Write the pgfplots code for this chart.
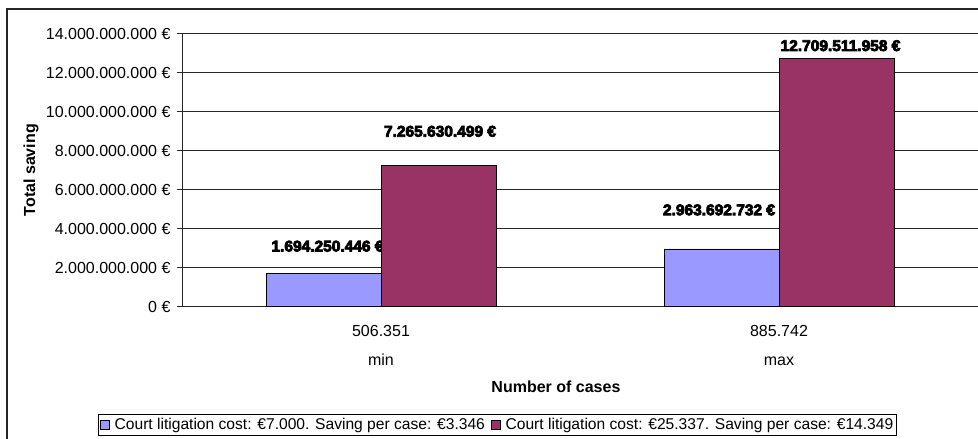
\documentclass[border=0pt]{standalone}
\usepackage{pgfplots}
\usepackage{pgfplotstable}
\pgfplotsset{compat=1.18}
\usepackage{fontspec}
\setmainfont{Liberation Sans}
\newfontface\heavy[FakeBold=5]{Liberation Sans Bold}

\definecolor{barblue}{HTML}{9999FF}
\definecolor{barplum}{HTML}{993366}

% total saving per scenario; dx, dy = placement of the value label (bp)
\pgfplotstableread{
x y lab dx dy
0 1694250446 {1.694.250.446 €} 4 27.5
1 2963692732 {2.963.692.732 €} -2.5 39
}\lowcost
\pgfplotstableread{
x y lab dx dy
0 7265630499 {7.265.630.499 €} 1.5 33.7
1 12709511958 {12.709.511.958 €} 4 13.2
}\highcost

% shared geometry of the two stacked axes
\pgfplotsset{
  frame geometry/.style={
    at={(182bp,132.3bp)}, anchor=south west,
    scale only axis, width=796bp, height=273bp,
    xmin=-0.5, xmax=1.5, ymin=0, ymax=14000000000,
    ybar=0pt, bar width=115bp,
    point meta=explicit symbolic,
    nodes near coords,
    every node near coord/.append style={font=\heavy\fontsize{15.5bp}{18bp}\selectfont,
       anchor=center, xshift=\dx bp, yshift=\dy bp, inner sep=0pt},
    visualization depends on={\thisrow{dx} \as \dx},
    visualization depends on={\thisrow{dy} \as \dy},
  },
}

\begin{document}
\fontsize{16bp}{19bp}\selectfont
\begin{tikzpicture}
\useasboundingbox (0,0) rectangle (978bp,439bp);
\clip (0,0) rectangle (978bp,439bp);
% chart frame
\draw[line width=1.2bp, black!85] (7bp,-10bp) -- (7bp,430bp) -- (990bp,430bp);
% value axis, categories, grid and the low-cost series
\begin{axis}[
  frame geometry,
  scaled y ticks=false,
  axis x line*=bottom, axis y line*=left,
  axis line style={black!85, line width=0.9bp},
  ymajorgrids, grid style={black!85, line width=0.8bp},
  tick align=outside, major tick length=5bp,
  tick style={black!85, line width=0.9bp},
  ytick={0,2000000000,4000000000,6000000000,8000000000,10000000000,12000000000,14000000000},
  yticklabels={0 €,2.000.000.000 €,4.000.000.000 €,6.000.000.000 €,8.000.000.000 €,10.000.000.000 €,12.000.000.000 €,14.000.000.000 €},
  yticklabel style={font=\fontsize{16bp}{19bp}\selectfont, xshift=-1bp},
  xtick={0,1}, xticklabels={506.351,885.742},
  xtick style={draw=none},
  xticklabel style={font=\fontsize{16bp}{19bp}\selectfont, anchor=base, yshift=-25bp},
  extra x ticks={0,1}, extra x tick labels={min,max},
  extra x tick style={grid=none, tick style={draw=none},
     xticklabel style={anchor=base, yshift=-29bp}},
  every axis y label/.style={at={(axis description cs:-0.1897,0.5)}, rotate=90, anchor=center,
     font=\bfseries\fontsize{16bp}{19bp}\selectfont},
  ylabel={Total saving},
  every axis x label/.style={at={(axis description cs:0.4698,-0.2927)}, anchor=center,
     font=\bfseries\fontsize{16bp}{19bp}\selectfont},
  xlabel={Number of cases},
  legend columns=2,
  legend style={at={(axis description cs:0.3965,-0.4333)}, anchor=center,
     draw=black, line width=0.8bp, inner sep=1.5bp,
     font=\fontsize{15.6bp}{19bp}\selectfont,
     /tikz/every odd column/.append style={column sep=3bp},
     /tikz/every even column/.append style={column sep=4bp}},
  legend cell align=left,
  legend image code/.code={\draw[#1, draw=black, line width=0.7bp] (1bp,-4.5bp) rectangle (10bp,4.5bp);},
]
\addplot[fill=barblue, draw=black, line width=0.8bp, bar shift=-57.5bp]
  table[x=x, y=y, meta=lab] {\lowcost};
\addlegendentry{Court litigation cost: €7.000. Saving per case: €3.346}
\addlegendimage{fill=barplum, draw=black}
\addlegendentry{Court litigation cost: €25.337. Saving per case: €14.349}
% category dividers below the value axis
\draw[black!85, line width=0.9bp] (axis cs:-0.5,0) -- ++(0,-62.3bp);
\draw[black!85, line width=0.9bp] (axis cs:0.5,0) -- ++(0,-62.3bp);
\draw[black!85, line width=0.9bp] (axis cs:1.5,0) -- ++(0,-62.3bp);
\end{axis}
% high-cost series, drawn over the first one
\begin{axis}[frame geometry, hide axis]
\addplot[fill=barplum, draw=black, line width=0.8bp, bar shift=57.5bp]
  table[x=x, y=y, meta=lab] {\highcost};
\end{axis}
\end{tikzpicture}
\end{document}
